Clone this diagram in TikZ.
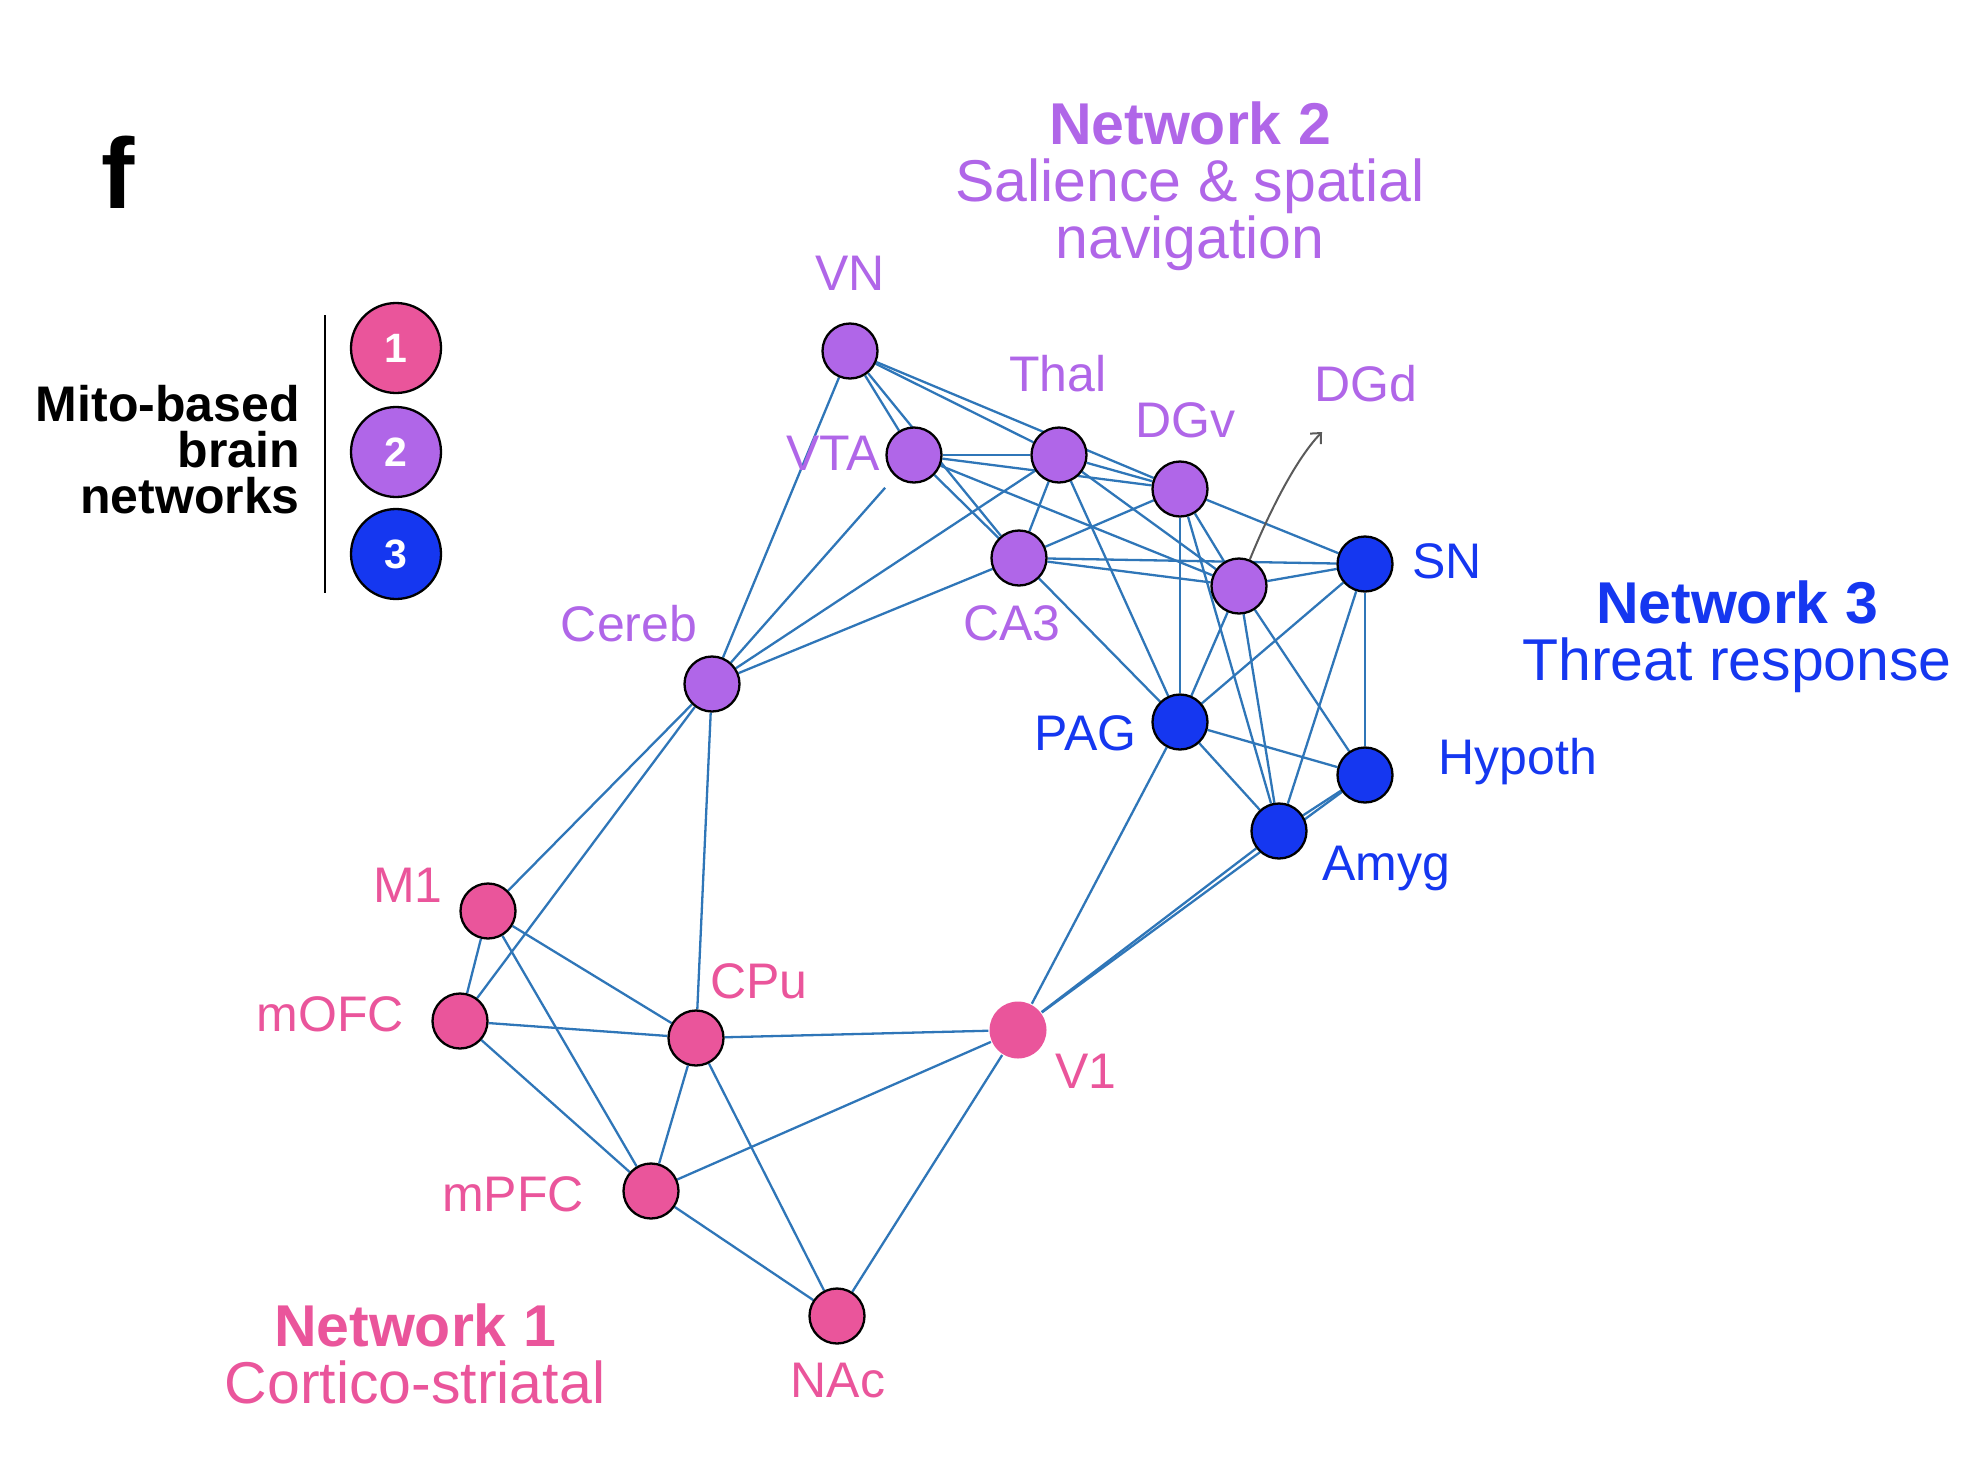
\documentclass[tikz,border=0pt]{standalone}
\usepackage{fontspec}
\setmainfont{Liberation Sans}
\usetikzlibrary{arrows.meta}

\definecolor{netpink}{HTML}{EA559B}
\definecolor{netpurple}{HTML}{B066E8}
\definecolor{netblue}{HTML}{1537F0}
\definecolor{linkblue}{HTML}{2F76B8}
\definecolor{arrowgray}{HTML}{5A5A5A}

\pgfdeclarelayer{links}
\pgfsetlayers{links,main}

\begin{document}
\begin{tikzpicture}[x=1pt, y=-1pt, line join=round]

    \tikzset{%
      region/.style    = {circle, draw=black, line width=2.3pt, minimum size=55pt, inner sep=0pt},
      link/.style      = {draw=linkblue, line width=2.3pt},
      lbl/.style       = {inner sep=0pt, font=\fontsize{50}{50}\selectfont},
      title/.style     = {align=center, anchor=north, inner sep=0pt, font=\fontsize{59}{57}\selectfont},
      legendball/.style = {circle, draw=black, line width=2.3pt, minimum size=90pt, inner sep=0pt,
                           text=white, font=\bfseries\fontsize{41}{41}\selectfont},
      pointer/.style   = {draw=arrowgray, line width=2pt, -{Straight Barb[length=8pt, width=15pt]}}
    }

    \useasboundingbox (0,0) rectangle (1972,1462);

    % panel letter and legend
    \node[anchor=base, inner sep=0pt, font=\bfseries\fontsize{100}{100}\selectfont] (panel) at (118,208) {f};
    \node[align=right, anchor=north east, inner sep=0pt, font=\bfseries\fontsize{50}{46}\selectfont]
      (keytext) at (300,385) {Mito-based\\brain\\networks};
    \draw[line width=2pt] (325,315) -- (325,593);
    \node[legendball, fill=netpink]   (key1) at (396,348) {1};
    \node[legendball, fill=netpurple] (key2) at (396,452) {2};
    \node[legendball, fill=netblue]   (key3) at (396,554) {3};

    % network titles
    \node[title, text=netpurple] (net2) at (1190,102) {\textbf{Network 2}\\Salience \& spatial\\navigation};
    \node[title, text=netblue]   (net3) at (1737,581) {\textbf{Network 3}\\Threat response};
    \node[title, text=netpink]   (net1) at (415,1304) {\textbf{Network 1}\\Cortico-striatal};

    % brain regions: name/x/y/colour
    \foreach \nm/\px/\py/\clr in {%
        vn/850/351/netpurple,   vta/914/455/netpurple,  thal/1059/455/netpurple,
        dgv/1180/489/netpurple, ca3/1019/558/netpurple, dgd/1239/586/netpurple,
        cereb/712/684/netpurple,
        sn/1365/564/netblue,    pag/1180/722/netblue,   hypoth/1365/775/netblue,
        amyg/1279/831/netblue,
        m1/488/911/netpink,     mofc/460/1021/netpink,  cpu/696/1038/netpink,
        mpfc/651/1191/netpink,  nac/837/1316/netpink%
    }{
      \node[region, fill=\clr] (\nm) at (\px,\py) {};
    }
    \node[region, draw=none, minimum size=57pt, fill=netpink] (v1) at (1018,1030) {};

    % region labels: text/x/y/anchor/colour
    \foreach \txt/\px/\py/\anc/\clr in {%
        VN/850/290/base/netpurple,       Thal/1058/391/base/netpurple,
        DGv/1185/437/base/netpurple,     DGd/1366/401/base/netpurple,
        VTA/880/470/base east/netpurple, CA3/1012/640/base/netpurple,
        Cereb/629/641/base/netpurple,
        SN/1412/578/base west/netblue,   PAG/1137/750/base east/netblue,
        Hypoth/1518/774/base/netblue,    Amyg/1322/880/base west/netblue,
        M1/443/902/base east/netpink,    mOFC/404/1031/base east/netpink,
        CPu/759/998/base/netpink,        V1/1055/1088/base west/netpink,
        mPFC/584/1211/base east/netpink, NAc/838/1397/base/netpink%
    }{
      \node[lbl, anchor=\anc, text=\clr] at (\px,\py) {\txt};
    }

    % connections between regions
    \begin{pgfonlayer}{links}
      \foreach \a/\b in {%
          vn/cereb, vn/vta, vn/ca3, vn/thal, vn/dgv,
          vta/thal, vta/ca3, vta/dgv, vta/dgd,
          thal/cereb, thal/ca3, thal/dgv, thal/dgd, thal/pag,
          ca3/cereb, ca3/dgv, ca3/dgd, ca3/sn, ca3/pag,
          dgv/sn, dgv/dgd, dgv/pag, dgv/amyg,
          dgd/sn, dgd/pag, dgd/amyg, dgd/hypoth,
          sn/pag, sn/amyg, sn/hypoth,
          pag/hypoth, pag/amyg, pag/v1,
          amyg/hypoth, amyg/v1, hypoth/v1,
          cereb/m1, cereb/mofc, cereb/cpu,
          m1/mofc, m1/cpu, m1/mpfc,
          mofc/cpu, mofc/mpfc,
          cpu/v1, cpu/mpfc, cpu/nac,
          mpfc/v1, mpfc/nac, nac/v1%
      }{
        \draw[link] (\a) -- (\b);
      }
      \draw[link, shorten >=15pt] (cereb) -- (vta);
    \end{pgfonlayer}

    % DGd pointer
    \coordinate (dgdend) at (1322,432);
    \draw[pointer] (dgd) .. controls (1268,515) and (1295,460) .. (dgdend);

\end{tikzpicture}
\end{document}
